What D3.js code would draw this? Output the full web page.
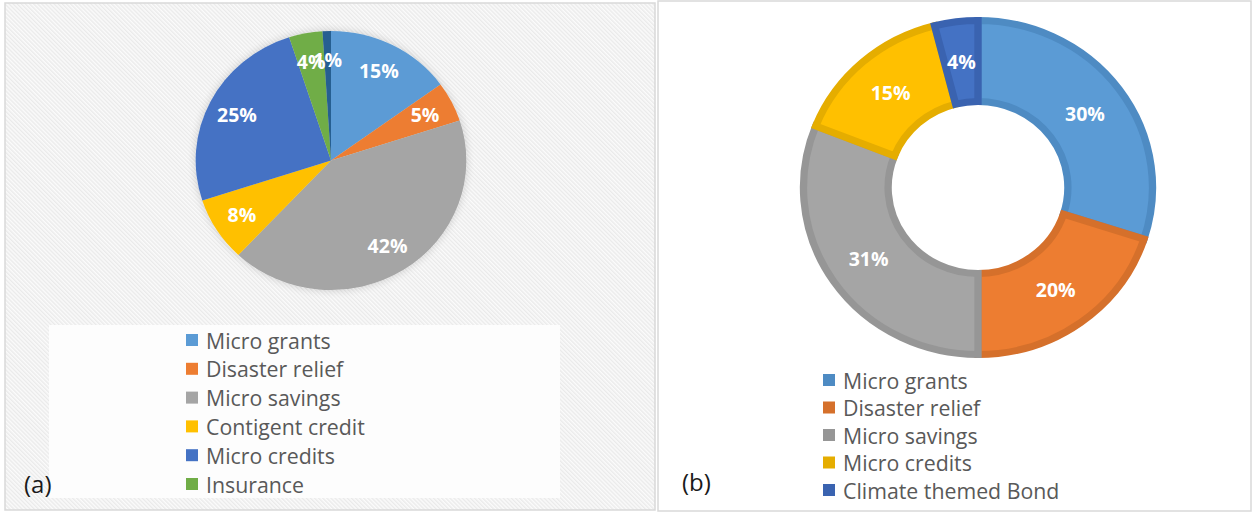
<!DOCTYPE html>
<html>
<head>
<meta charset="utf-8">
<script src="https://cdn.jsdelivr.net/npm/d3@7"></script>
<style>
  html, body { margin: 0; padding: 0; background: #ffffff; }
  svg { display: block; }
  text { font-family: "Open Sans", Lato, sans-serif; }
</style>
</head>
<body>
<svg id="chart" width="1252" height="512"></svg>
<script>
// Panel (a): funding instruments, pie
const pieCategories = ["Micro grants", "Disaster relief", "Micro savings", "Contigent credit", "Micro credits", "Insurance", "Other"];
const pieValues = [15, 5, 42, 8, 25, 4, 1];
const pieColors = ["#5B9BD5", "#ED7D31", "#A5A5A5", "#FFC000", "#4472C4", "#70AD47", "#255E91"];
const pieLegendCount = 6;

// Panel (b): funding instruments, donut
const donutCategories = ["Micro grants", "Disaster relief", "Micro savings", "Micro credits", "Climate themed Bond"];
const donutValues = [30, 20, 31, 15, 4];
const donutColors = ["#5B9BD5", "#ED7D31", "#A5A5A5", "#FFC000", "#4472C4"];
const donutStrokes = ["#4E8BC3", "#D5702B", "#969696", "#E5AD00", "#3A63B0"];

const panelLabels = ["(a)", "(b)"];

const svg = d3.select("#chart");
const defs = svg.append("defs");

// diagonal hatch for panel (a) background
const pat = defs.append("pattern")
  .attr("id", "hatch")
  .attr("patternUnits", "userSpaceOnUse")
  .attr("width", 2.9).attr("height", 2.9)
  .attr("patternTransform", "rotate(-45)");
pat.append("rect").attr("width", 2.9).attr("height", 2.9).attr("fill", "#fbfbfb");
pat.append("line").attr("x1", 0.7).attr("y1", 0).attr("x2", 0.7).attr("y2", 2.9)
  .attr("stroke", "#e9e9e9").attr("stroke-width", 1.3);

const glow = defs.append("filter").attr("id", "glow")
  .attr("x", "-20%").attr("y", "-20%").attr("width", "140%").attr("height", "140%");
glow.append("feGaussianBlur").attr("in", "SourceAlpha").attr("stdDeviation", 4).attr("result", "b");
glow.append("feComponentTransfer").attr("in", "b").attr("result", "s")
  .append("feFuncA").attr("type", "linear").attr("slope", 0.18);
const gm = glow.append("feMerge");
gm.append("feMergeNode").attr("in", "s");
gm.append("feMergeNode").attr("in", "SourceGraphic");

// ---------- panel (a) ----------
svg.append("rect").attr("x", 5).attr("y", 3).attr("width", 650).attr("height", 507)
  .attr("fill", "url(#hatch)").attr("stroke", "#d9d9d9").attr("stroke-width", 1.5);

svg.append("rect").attr("x", 49).attr("y", 325).attr("width", 511).attr("height", 173)
  .attr("fill", "#fdfdfd");

const pieCx = 331, pieCy = 160.5, pieR = 129.5, sx = 1.045;
const pieGen = d3.pie().sort(null).value(d => d);
const pieArcs = pieGen(pieValues);
const pieArc = d3.arc().innerRadius(0).outerRadius(pieR);
const pieLabelArc = d3.arc().innerRadius(pieR * 0.78).outerRadius(pieR * 0.78);

const gPie = svg.append("g")
  .attr("transform", `translate(${pieCx},${pieCy}) scale(${sx},1)`)
  .attr("filter", "url(#glow)");
gPie.selectAll("path").data(pieArcs).join("path")
  .attr("d", pieArc)
  .attr("fill", (d, i) => pieColors[i]);

svg.append("g").selectAll("text").data(pieArcs).join("text")
  .attr("x", d => pieCx + pieLabelArc.centroid(d)[0] * sx)
  .attr("y", d => pieCy + pieLabelArc.centroid(d)[1])
  .attr("text-anchor", "middle").attr("dominant-baseline", "central")
  .attr("fill", "#ffffff").attr("font-weight", "bold").attr("font-size", 19.5)
  .text(d => Math.round(d.data) + "%");

const legA = svg.append("g");
const legAy = d3.scalePoint().domain(d3.range(pieLegendCount)).range([340, 484]);
legA.selectAll("rect").data(d3.range(pieLegendCount)).join("rect")
  .attr("x", 186).attr("y", i => legAy(i) - 6).attr("width", 12).attr("height", 12)
  .attr("fill", i => pieColors[i]);
legA.selectAll("text").data(d3.range(pieLegendCount)).join("text")
  .attr("x", 206).attr("y", i => legAy(i))
  .attr("dominant-baseline", "central")
  .attr("fill", "#595959").attr("font-size", 21.3)
  .text(i => pieCategories[i]);

svg.append("text").attr("x", 24).attr("y", 483).attr("dominant-baseline", "central")
  .attr("font-size", 24).attr("fill", "#1a1a1a").text(panelLabels[0]);

// ---------- panel (b) ----------
svg.append("rect").attr("x", 658).attr("y", 1).attr("width", 593).attr("height", 510)
  .attr("fill", "#ffffff").attr("stroke", "#d9d9d9").attr("stroke-width", 1.5);

const dCx = 978, dCy = 187.5, dOuter = 167, dInner = 86;
const donutArcs = pieGen(donutValues);
const donutArc = d3.arc().innerRadius(dInner).outerRadius(dOuter);
const gDonut = svg.append("g").attr("transform", `translate(${dCx},${dCy}) scale(${sx},1)`);
gDonut.selectAll("path").data(donutArcs).join("path")
  .attr("d", donutArc)
  .attr("fill", (d, i) => donutColors[i])
  .attr("stroke", (d, i) => donutStrokes[i])
  .attr("stroke-width", 7)
  .attr("stroke-linejoin", "miter");

svg.append("g").selectAll("text").data(donutArcs).join("text")
  .attr("x", d => dCx + donutArc.centroid(d)[0] * sx)
  .attr("y", d => dCy + donutArc.centroid(d)[1])
  .attr("text-anchor", "middle").attr("dominant-baseline", "central")
  .attr("fill", "#ffffff").attr("font-weight", "bold").attr("font-size", 19.5)
  .text(d => Math.round(d.data) + "%");

const legB = svg.append("g");
const legBy = d3.scalePoint().domain(d3.range(donutCategories.length)).range([380, 490]);
legB.selectAll("rect").data(donutCategories).join("rect")
  .attr("x", 823).attr("y", (d, i) => legBy(i) - 6).attr("width", 12).attr("height", 12)
  .attr("fill", (d, i) => donutStrokes[i]);
legB.selectAll("text").data(donutCategories).join("text")
  .attr("x", 843).attr("y", (d, i) => legBy(i))
  .attr("dominant-baseline", "central")
  .attr("fill", "#595959").attr("font-size", 21.3)
  .text(d => d);

svg.append("text").attr("x", 682).attr("y", 481).attr("dominant-baseline", "central")
  .attr("font-size", 24).attr("fill", "#1a1a1a").text(panelLabels[1]);
</script>
</body>
</html>
